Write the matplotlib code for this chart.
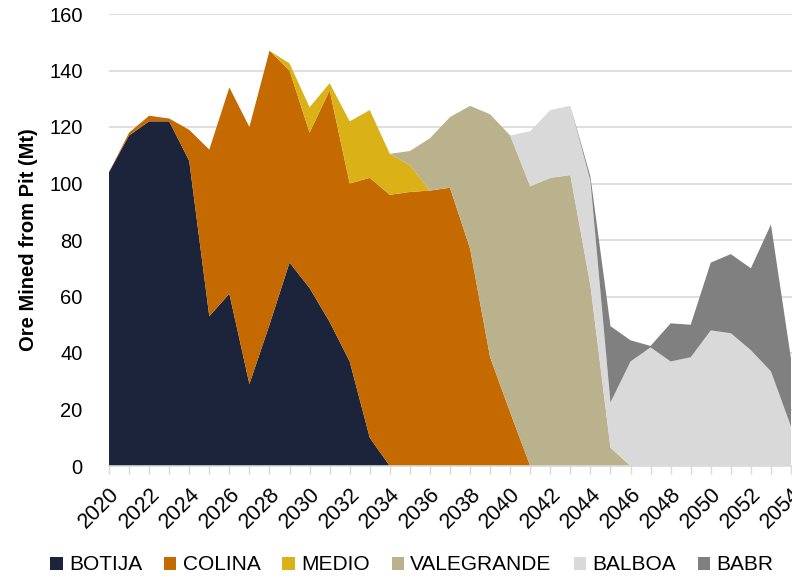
import numpy as np
import matplotlib
matplotlib.use('Agg')
import matplotlib.pyplot as plt
from matplotlib.patches import Patch

plt.rcParams['font.family'] = ['Liberation Sans', 'DejaVu Sans']

# years on the x axis
years = np.arange(2020, 2055)

# ore mined per pit (Mt)
botija = [104, 117, 122, 122, 108, 53, 61, 29, 50, 72, 63, 51, 37, 10, 0,
          0, 0, 0, 0, 0, 0, 0, 0, 0, 0, 0, 0, 0, 0, 0, 0, 0, 0, 0, 0]
colina = [0, 1, 2, 1, 11, 59, 73, 91, 97, 68, 55, 82, 63, 92, 96,
          97, 97.5, 98.5, 77, 38.5, 19, 0, 0, 0, 0, 0, 0, 0, 0, 0, 0, 0, 0, 0, 0]
medio = [0, 0, 0, 0, 0, 0, 0, 0, 0, 2.5, 9, 2.5, 22, 24, 14.5,
         9.5, 0, 0, 0, 0, 0, 0, 0, 0, 0, 0, 0, 0, 0, 0, 0, 0, 0, 0, 0]
valegrande = [0, 0, 0, 0, 0, 0, 0, 0, 0, 0, 0, 0, 0, 0, 0,
              5, 18.5, 25, 50.5, 86, 98, 99, 102, 103, 64, 6.5, 0, 0, 0, 0, 0, 0, 0, 0, 0]
balboa = [0, 0, 0, 0, 0, 0, 0, 0, 0, 0, 0, 0, 0, 0, 0,
          0, 0, 0, 0, 0, 0, 19.5, 24, 24.5, 37, 16, 37, 42, 37, 38.5, 48, 47, 41, 33.5, 14]
babr = [0, 0, 0, 0, 0, 0, 0, 0, 0, 0, 0, 0, 0, 0, 0,
        0, 0, 0, 0, 0, 0, 0, 0, 0, 1.5, 27, 7.5, 0.5, 13.5, 11.5, 24, 28, 29, 52, 24]

names = ['BOTIJA', 'COLINA', 'MEDIO', 'VALEGRANDE', 'BALBOA', 'BABR']
colors = ['#1C243C', '#C46A00', '#DBB118', '#B9B28D', '#D9D9D9', '#808080']

fig = plt.figure(figsize=(7.92, 5.79), dpi=100)
ax = fig.add_axes([109/792, 113/579, 683/792, 452/579])

ax.stackplot(years, botija, colina, medio, valegrande, balboa, babr,
             colors=colors, linewidth=0)

ax.set_xlim(2020, 2054.05)
ax.set_ylim(0, 160)
ax.set_yticks(np.arange(0, 161, 20))
ax.set_xticks(np.arange(2020, 2055, 2))
ax.set_xticks(years, minor=True)
ax.set_xticklabels([str(y) for y in range(2020, 2055, 2)], rotation=45,
                   ha='right', va='top', rotation_mode='anchor', fontsize=15.5)
ax.tick_params(axis='y', length=0, labelsize=14.5, pad=19)
ax.tick_params(axis='x', which='both', length=6, color='#D9D9D9', width=1,
               pad=7)

ax.grid(axis='y', color='#D9D9D9', linewidth=1.2)
ax.set_axisbelow(True)
for s in ['top', 'right', 'left']:
    ax.spines[s].set_visible(False)
ax.spines['bottom'].set_color('#D9D9D9')
ax.spines['bottom'].set_linewidth(1.2)

ax.set_ylabel('Ore Mined from Pit (Mt)', fontsize=14.5, fontweight='bold',
              labelpad=8)

handles = [Patch(facecolor=c, edgecolor='none') for c in colors]
fig.legend(handles, names, loc='center', bbox_to_anchor=(0.52, 14/579),
           ncol=6, frameon=False, fontsize=15, handlelength=0.6,
           handleheight=0.6, handletextpad=0.3, columnspacing=1.05)

fig.savefig('out.png', dpi=100)
